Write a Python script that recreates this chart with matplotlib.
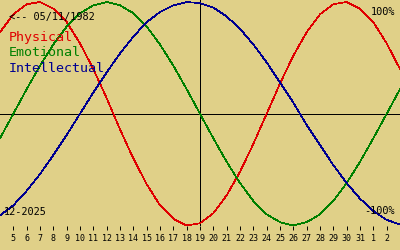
import matplotlib
matplotlib.use('Agg')
import matplotlib.pyplot as plt

# days shown (Dec 4 .. Jan 3), labelled days 5 .. 2
days = list(range(4, 35))
physical = [0.73, 0.89, 0.98, 1.00, 0.94, 0.82, 0.63, 0.40, 0.14, -0.14,
            -0.40, -0.63, -0.82, -0.94, -1.00, -0.98, -0.89, -0.73, -0.52, -0.27,
            0.00, 0.27, 0.52, 0.73, 0.89, 0.98, 1.00, 0.94, 0.82, 0.63, 0.40]
emotional = [-0.22, 0.00, 0.22, 0.43, 0.62, 0.78, 0.90, 0.97, 1.00, 0.97,
             0.90, 0.78, 0.62, 0.43, 0.22, 0.00, -0.22, -0.43, -0.62, -0.78,
             -0.90, -0.97, -1.00, -0.97, -0.90, -0.78, -0.62, -0.43, -0.22, 0.00, 0.22]
intellectual = [-0.91, -0.82, -0.69, -0.54, -0.37, -0.19, 0.00, 0.19, 0.37, 0.54,
                0.69, 0.82, 0.91, 0.97, 1.00, 0.99, 0.95, 0.87, 0.76, 0.62,
                0.46, 0.28, 0.10, -0.10, -0.28, -0.46, -0.62, -0.76, -0.87, -0.95, -0.99]

tick_days = list(range(5, 34))
tick_labels = [str(d) for d in range(5, 32)] + ['1', '2']
today = 19

birth_text = '<-- 05/11/1982'
month_text = '12-2025'

bg = '#E0D088'
colors = {'Physical': '#E00000', 'Emotional': '#008000', 'Intellectual': '#000090'}
mono = 'DejaVu Sans Mono'

fig = plt.figure(figsize=(4, 2.5), dpi=100, facecolor=bg)
ax = fig.add_axes([0, 0.096, 1, 0.904], facecolor=bg)

ax.axhline(0, color='black', linewidth=0.7, antialiased=False)
ax.axvline(today, color='black', linewidth=0.7, antialiased=False)

for name, vals in [('Physical', physical), ('Emotional', emotional),
                   ('Intellectual', intellectual)]:
    ax.plot(days, vals, color=colors[name], linewidth=0.5, antialiased=False)

ax.set_xlim(4, 34)
ax.set_ylim(-1.0045, 1.0179)
ax.set_yticks([])
ax.set_xticks(tick_days)
ax.set_xticklabels(tick_labels, fontsize=6, family=mono)
ax.tick_params(axis='x', direction='out', length=3.2, width=0.7, pad=2.5, color='black')
for s in ax.spines.values():
    s.set_visible(False)

# texts
fig.text(9 / 400, 1 - 17 / 250, birth_text, fontsize=7.4, family=mono,
         va='center', ha='left', color='black')
for i, name in enumerate(['Physical', 'Emotional', 'Intellectual']):
    fig.text(9 / 400, 1 - (38 + 15 * i) / 250, name, fontsize=9.6, family=mono,
             va='center', ha='left', color=colors[name])
fig.text(395 / 400, 1 - 12 / 250, '100%', fontsize=7.4, family=mono,
         va='center', ha='right', color='black')
fig.text(395 / 400, 1 - 211 / 250, '-100%', fontsize=7.4, family=mono,
         va='center', ha='right', color='black')
fig.text(4 / 400, 1 - 212 / 250, month_text, fontsize=7.4, family=mono,
         va='center', ha='left', color='black')

fig.savefig('out.png', dpi=100, facecolor=bg)
